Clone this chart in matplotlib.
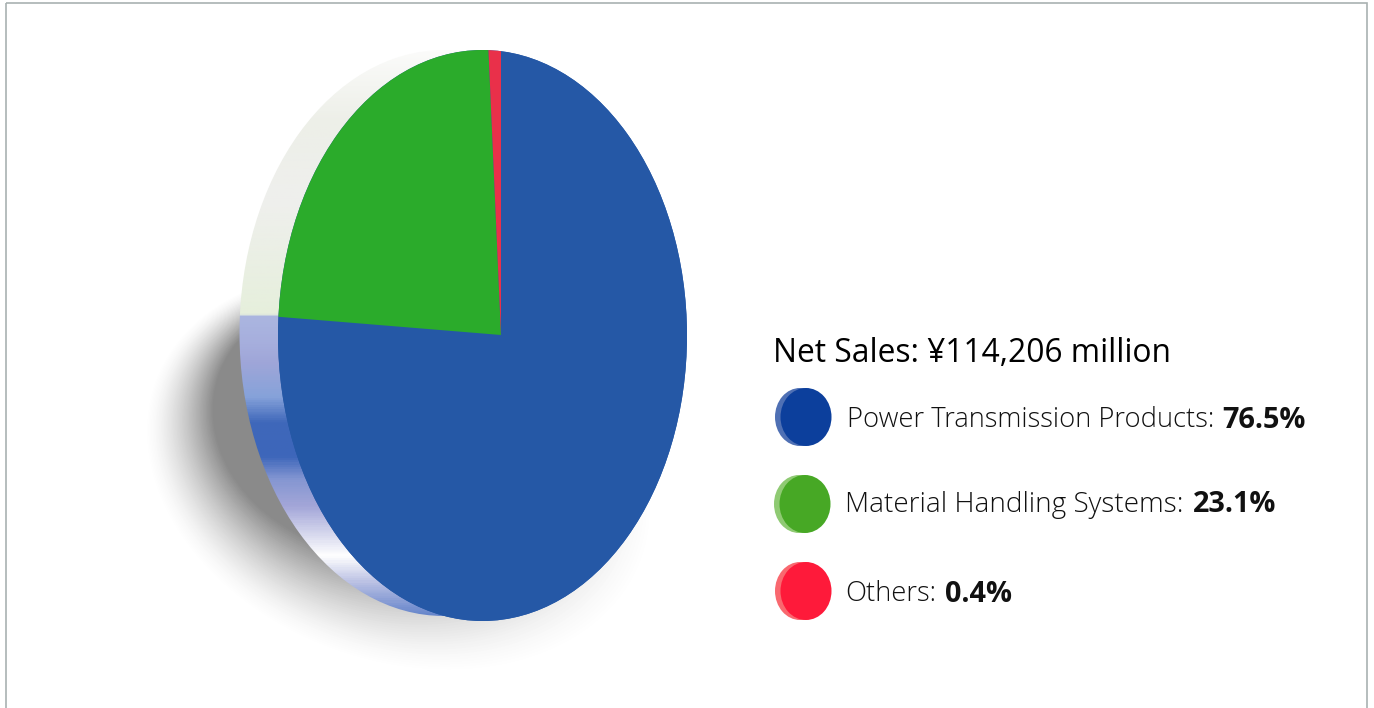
import numpy as np
import matplotlib
matplotlib.use("Agg")
import matplotlib.pyplot as plt
from matplotlib.colors import LinearSegmentedColormap, to_rgb
from matplotlib.patches import Ellipse, Rectangle

plt.rcParams['font.family'] = ['Open Sans', 'DejaVu Sans']

title = "Net Sales: ¥114,206 million"
categories = ["Power Transmission Products:", "Material Handling Systems:", "Others:"]
percent_labels = ["76.5%", "23.1%", "0.4%"]
# slice shares as they are drawn in the picture (the red one is drawn wider than its label)
drawn_shares = [76.3, 23.0, 0.7]
pie_colors = ["#2558a6", "#2bab2b", "#e9304a"]
key_colors = ["#0c3f9c", "#47a825", "#fe1a3a"]
key_back_colors = ["#4f70b4", "#8fca73", "#f9686f"]

# rim colours from top to bottom of the disc
rim_y = [50, 120, 200, 314, 316, 345, 363, 397, 423, 457, 480, 507, 530, 557, 583, 607, 621]
rim_colors = ["#fbfbfa", "#edefe8", "#efefed", "#e6efdc", "#abb6e0", "#a6aedd", "#9fa6d8", "#86a2da",
              "#3f68ba", "#3d66ba", "#8496d2", "#a3a6d8", "#cdcfea", "#ffffff", "#bcc2e4",
              "#7d95d2", "#5d80c8"]

fig = plt.figure(figsize=(13.74, 7.08), dpi=100)
ax = fig.add_axes([0, 0, 1, 1])

# soft shadow behind the disc
steps = 50
for i in range(steps):
    t = i / (steps - 1)
    gray = 1.0 - 0.46 * t ** 1.5
    ax.add_patch(Ellipse((400 - 40 * t, 472 - 47 * t), 525 - 225 * t, 385 - 135 * t, angle=20,
                         fc=(gray, gray, gray), ec="none", zorder=1))

# rim of the disc
rim_pos = [(y - rim_y[0]) / (rim_y[-1] - rim_y[0]) for y in rim_y]
rim_cmap = LinearSegmentedColormap.from_list("rim", list(zip(rim_pos, [to_rgb(c) for c in rim_colors])))
rim_clip = Ellipse((444, 333), 409, 566, transform=ax.transData, fc="none", ec="none")
ax.add_patch(rim_clip)
im = ax.imshow(np.linspace(0, 1, 600).reshape(-1, 1), cmap=rim_cmap, aspect="auto",
               extent=(230, 500, 621, 50), zorder=2)
im.set_clip_path(rim_clip)

# face of the disc: pie centred on the slice corner, cut by the face ellipse
face = Ellipse((482.5, 335.5), 409, 571, transform=ax.transData, fc=pie_colors[0], ec="none", zorder=3)
ax.add_patch(face)
wedges, _ = ax.pie(drawn_shares, colors=pie_colors, startangle=270, counterclock=True,
                   center=(501, 335), radius=420, frame=True)
for w in wedges:
    w.set_zorder(4)
    w.set_clip_on(True)
    w.set_clip_path(face)

# legend
ax.text(773, 354, title, fontsize=22.9, color="black", va="center", ha="left", zorder=6)
key_x = [806, 805, 806]
key_y = [417, 504, 591]
label_x = [847, 845, 845]
label_sizes = [19.7, 20.1, 19.7]
pct_x = [1222, 1193, 945]
label_y = [420, 505, 594]
for i in range(3):
    ax.add_patch(Ellipse((key_x[i] - 6, key_y[i]), 50, 58, fc=key_back_colors[i], ec="none", zorder=5))
    ax.add_patch(Ellipse((key_x[i], key_y[i]), 51, 58, fc=key_colors[i], ec="none", zorder=6))
    ax.text(label_x[i], label_y[i], categories[i], fontsize=label_sizes[i], color="#111111", va="center",
            ha="left", fontweight="light", zorder=6)
    ax.text(pct_x[i], label_y[i], percent_labels[i], fontsize=20.8, color="#111111", va="center", ha="left",
            fontweight="bold", zorder=6)

# frame
ax.add_patch(Rectangle((5.5, 2.5), 1361, 720, fc="none", ec="#a9b2b2", lw=1.2, zorder=7))

ax.set_xlim(0, 1374)
ax.set_ylim(708, 0)
ax.set_aspect("auto")
ax.axis("off")
fig.savefig("out.png", dpi=100, facecolor="white")
